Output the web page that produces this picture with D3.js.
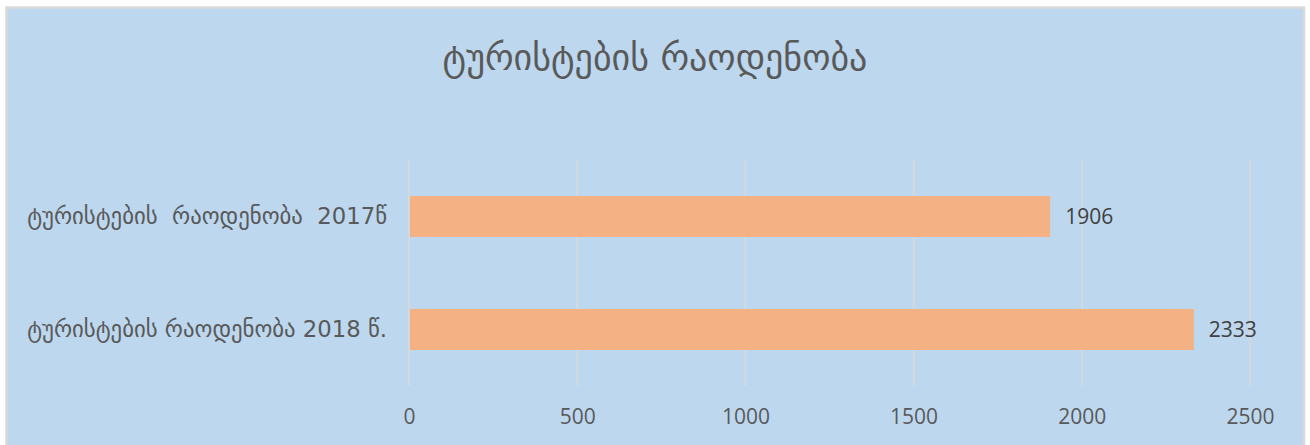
<!DOCTYPE html>
<html>
<head>
<meta charset="utf-8">
<script src="https://cdn.jsdelivr.net/npm/d3@7"></script>
<style>
  html, body { margin: 0; padding: 0; background: #ffffff; }
  svg { display: block; }
  text { white-space: pre; }
</style>
</head>
<body>
<svg id="chart" width="1310" height="445"></svg>
<script>
// Tourist counts by year
const categories = ["ტურისტების  რაოდენობა  2017წ", "ტურისტების რაოდენობა 2018 წ."];
const values = [1906, 2333];
const tickValues = [0, 500, 1000, 1500, 2000, 2500];
const title = "ტურისტების რაოდენობა";

const W = 1310, H = 445;
const svg = d3.select("#chart");

// chart area background with light border
svg.append("rect")
  .attr("x", 6.5).attr("y", 7.5)
  .attr("width", 1297.5).attr("height", H)
  .attr("fill", "#BDD7EE")
  .attr("stroke", "#D9D9D9")
  .attr("stroke-width", 2.5);

const plot = { left: 409, right: 1250, top: 160, bottom: 386 };

const x = d3.scaleLinear().domain([0, 2500]).range([plot.left, plot.right]);
const y = d3.scaleBand().domain(categories)
  .range([plot.top, plot.bottom])
  .paddingInner(0.637).paddingOuter(0.637 / 2);

// vertical gridlines
svg.append("g").selectAll("line").data(tickValues).join("line")
  .attr("x1", d => x(d)).attr("x2", d => x(d))
  .attr("y1", plot.top).attr("y2", plot.bottom)
  .attr("stroke", "#D9D9D9").attr("stroke-width", 1.5);

// bars
svg.append("g").selectAll("rect").data(values).join("rect")
  .attr("x", x(0) + 1)
  .attr("y", (d, i) => y(categories[i]))
  .attr("width", d => x(d) - x(0) - 1)
  .attr("height", y.bandwidth())
  .attr("fill", "#F4B183");

// value labels
svg.append("g").selectAll("text").data(values).join("text")
  .attr("x", d => x(d) + 15)
  .attr("y", (d, i) => y(categories[i]) + y.bandwidth() / 2)
  .attr("dy", "0.35em")
  .attr("font-family", "'Open Sans', sans-serif")
  .attr("font-size", 21)
  .attr("fill", "#404040")
  .text(d => d);

// x axis tick labels
const xAxis = d3.axisBottom(x).tickValues(tickValues).tickFormat(d3.format("d"))
  .tickSize(0).tickPadding(0);
const gx = svg.append("g").attr("transform", "translate(0,417)").call(xAxis);
gx.select(".domain").remove();
gx.selectAll("text")
  .attr("y", 0).attr("dy", "0.35em")
  .attr("font-family", "'Open Sans', sans-serif")
  .attr("font-size", 21)
  .attr("fill", "#595959");

// category labels
const yAxis = d3.axisLeft(y).tickSize(0).tickPadding(0);
const gy = svg.append("g").attr("transform", "translate(387,0)").call(yAxis);
gy.select(".domain").remove();
gy.selectAll("text")
  .attr("x", 0).attr("dy", "0.35em")
  .attr("font-family", "'DejaVu Sans', sans-serif")
  .attr("font-size", 20)
  .attr("fill", "#595959")
  .each(function () {
    // fit each label to its measured width
    const len = this.getComputedTextLength();
    const target = 360;
    if (len > 0) d3.select(this).attr("font-size", 20 * target / len);
  });

// title
const t = svg.append("text")
  .attr("x", 655).attr("y", 57)
  .attr("text-anchor", "middle").attr("dy", "0.35em")
  .attr("font-family", "'DejaVu Sans', sans-serif")
  .attr("font-size", 30)
  .attr("fill", "#595959")
  .text(title);
const tl = t.node().getComputedTextLength();
if (tl > 0) t.attr("font-size", Math.min(36, 30 * 430 / tl));
</script>
</body>
</html>
